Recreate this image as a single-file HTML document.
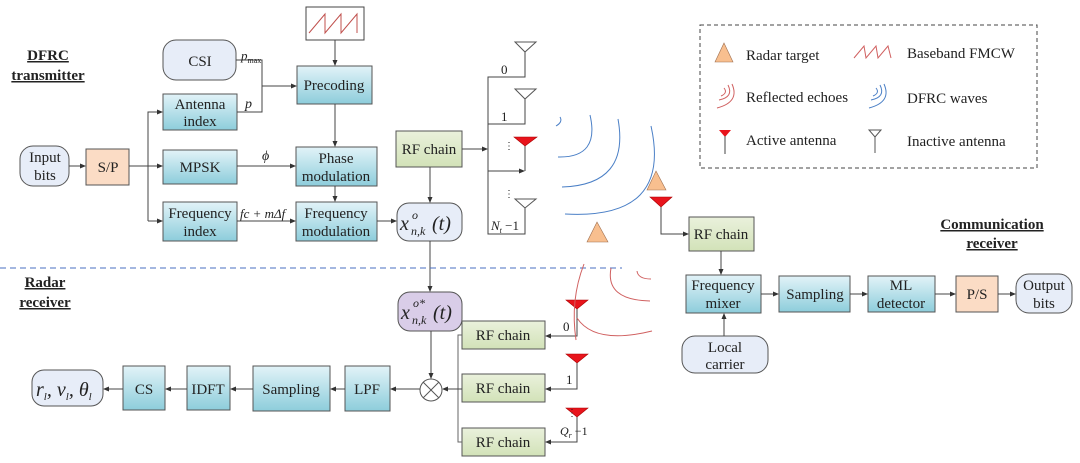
<!DOCTYPE html>
<html><head><meta charset="utf-8"><style>
html,body{margin:0;padding:0;background:#fff;}
svg{display:block;font-family:"Liberation Serif",serif;}
</style></head><body>
<svg width="1080" height="463" viewBox="0 0 1080 463" xmlns="http://www.w3.org/2000/svg">
<defs>
<linearGradient id="bl" x1="0" y1="0" x2="0" y2="1"><stop offset="0" stop-color="#e2f3f8"/><stop offset="1" stop-color="#8dcddb"/></linearGradient>
<linearGradient id="gr" x1="0" y1="0" x2="0" y2="1"><stop offset="0" stop-color="#eaf1dc"/><stop offset="1" stop-color="#d2e2b8"/></linearGradient>
<marker id="a" markerWidth="6" markerHeight="6" refX="5" refY="3" orient="auto" markerUnits="userSpaceOnUse"><path d="M0,0.5 L6,3 L0,5.5z" fill="#333"/></marker>
</defs>
<g font-size="15" fill="#222">
<g font-weight="bold" text-decoration="underline" font-size="15" text-anchor="middle">
<text x="48" y="60">DFRC</text><text x="48" y="80">transmitter</text>
<text x="45" y="287">Radar</text><text x="45" y="307">receiver</text>
<text x="992" y="229">Communication</text><text x="992" y="248">receiver</text>
</g>

<rect x="306" y="7" width="58" height="33" fill="#fff" stroke="#444"/>
<polyline points="309,33 325,14 325,33 341,14 341,33 357,14 357,33" fill="none" stroke="#c0504d" stroke-width="1"/>

<g stroke="#555" stroke-width="1">
<rect x="163" y="40" width="73" height="40" rx="13" fill="#e7edf8"/>
<rect x="297" y="66" width="75" height="38" fill="url(#bl)"/>
<rect x="163" y="94" width="74" height="36" fill="url(#bl)"/>
<rect x="20" y="146" width="49" height="40" rx="13" fill="#e7edf8"/>
<rect x="86" y="149" width="43" height="36" fill="#fbdcc5"/>
<rect x="163" y="150" width="74" height="34" fill="url(#bl)"/>
<rect x="296" y="147" width="81" height="39" fill="url(#bl)"/>
<rect x="163" y="202" width="74" height="39" fill="url(#bl)"/>
<rect x="296" y="202" width="81" height="39" fill="url(#bl)"/>
<rect x="397" y="203" width="65" height="38" rx="12" fill="#e7edf8"/>
<rect x="396" y="131" width="66" height="36" fill="url(#gr)"/>
<rect x="689" y="217" width="65" height="34" fill="url(#gr)"/>
<rect x="686" y="275" width="75" height="38" fill="url(#bl)"/>
<rect x="779" y="276" width="71" height="36" fill="url(#bl)"/>
<rect x="868" y="276" width="67" height="36" fill="url(#bl)"/>
<rect x="956" y="276" width="42" height="36" fill="#fbdcc5"/>
<rect x="1016" y="274" width="56" height="39" rx="13" fill="#e7edf8"/>
<rect x="682" y="336" width="86" height="37" rx="13" fill="#e7edf8"/>
<rect x="398" y="292" width="64" height="39" rx="12" fill="#d9cde8"/>
<rect x="462" y="321" width="83" height="28" fill="url(#gr)"/>
<rect x="462" y="374" width="83" height="28" fill="url(#gr)"/>
<rect x="462" y="428" width="83" height="28" fill="url(#gr)"/>
<rect x="345" y="366" width="45" height="45" fill="url(#bl)"/>
<rect x="253" y="366" width="77" height="45" fill="url(#bl)"/>
<rect x="187" y="366" width="43" height="44" fill="url(#bl)"/>
<rect x="123" y="366" width="42" height="44" fill="url(#bl)"/>
<rect x="32" y="370" width="71" height="36" rx="12" fill="#e7edf8"/>
<circle cx="431" cy="390" r="11" fill="#fff"/>
<line x1="423" y1="382" x2="439" y2="398"/><line x1="439" y1="382" x2="423" y2="398"/>
</g>

<g stroke="#444" stroke-width="1" fill="none">
<line x1="335" y1="40" x2="335" y2="65" marker-end="url(#a)"/>
<polyline points="236,60 262,60 262,112 237,112"/>
<line x1="262" y1="86" x2="296" y2="86" marker-end="url(#a)"/>
<line x1="335" y1="104" x2="335" y2="146" marker-end="url(#a)"/>
<line x1="69" y1="166" x2="85" y2="166" marker-end="url(#a)"/>
<line x1="129" y1="166" x2="162" y2="166" marker-end="url(#a)"/>
<polyline points="148,221 148,112 162,112" marker-end="url(#a)"/>
<line x1="148" y1="166" x2="148" y2="221"/>
<line x1="148" y1="221" x2="162" y2="221" marker-end="url(#a)"/>
<line x1="237" y1="166" x2="295" y2="166" marker-end="url(#a)"/>
<line x1="335" y1="186" x2="335" y2="201" marker-end="url(#a)"/>
<line x1="237" y1="221" x2="295" y2="221" marker-end="url(#a)"/>
<line x1="377" y1="221" x2="396" y2="221" marker-end="url(#a)"/>
<line x1="430" y1="167" x2="430" y2="202" marker-end="url(#a)"/>
<line x1="430" y1="241" x2="430" y2="291" marker-end="url(#a)"/>
<line x1="462" y1="149" x2="487" y2="149" marker-end="url(#a)"/>
<polyline points="525,52 525,77 488,77 488,234 525,234 525,208"/>
<polyline points="525,99 525,124 488,124"/>
<line x1="488" y1="171" x2="524" y2="171" marker-end="url(#a)"/>
<line x1="525" y1="145" x2="525" y2="171"/>
<polyline points="661,207 661,234 688,234" marker-end="url(#a)"/>
<line x1="721" y1="251" x2="721" y2="274" marker-end="url(#a)"/>
<line x1="724" y1="336" x2="724" y2="314" marker-end="url(#a)"/>
<line x1="761" y1="294" x2="778" y2="294" marker-end="url(#a)"/>
<line x1="850" y1="294" x2="867" y2="294" marker-end="url(#a)"/>
<line x1="935" y1="294" x2="955" y2="294" marker-end="url(#a)"/>
<line x1="998" y1="294" x2="1015" y2="294" marker-end="url(#a)"/>
<line x1="431" y1="331" x2="431" y2="378" marker-end="url(#a)"/>
<polyline points="577,308 577,336 546,336" marker-end="url(#a)"/>
<polyline points="577,362 577,389 546,389" marker-end="url(#a)"/>
<polyline points="577,416 577,442 546,442" marker-end="url(#a)"/>
<polyline points="462,335 458,335 458,442 462,442" stroke="#666"/>
<line x1="462" y1="389" x2="443" y2="389" marker-end="url(#a)"/>
<line x1="420" y1="389" x2="391" y2="389" marker-end="url(#a)"/>
<line x1="345" y1="389" x2="331" y2="389" marker-end="url(#a)"/>
<line x1="253" y1="389" x2="231" y2="389" marker-end="url(#a)"/>
<line x1="187" y1="389" x2="166" y2="389" marker-end="url(#a)"/>
<line x1="123" y1="389" x2="104" y2="389" marker-end="url(#a)"/>
</g>

<g stroke="#555" fill="#fff">
<path d="M515,42 L536,42 L525,52z"/>
<path d="M515,89 L536,89 L525,99z"/>
<path d="M515,199 L536,199 L525,208z"/>
</g>
<g fill="#e8141c" stroke="#a00" stroke-width="0.6">
<path d="M514,137 L537,137 L525,146z"/>
<path d="M650,197 L672,197 L661,207z"/>
<path d="M566,300 L588,300 L577,309z"/>
<path d="M566,354 L588,354 L577,363z"/>
<path d="M566,408 L588,408 L577,417z"/>
</g>
<g fill="#f8bf8f" stroke="#a07050" stroke-width="0.6">
<path d="M597,222 L608,242 L587,242z"/>
<path d="M656,171 L666,190 L647,190z"/>
</g>
<g fill="none" stroke="#4a7fc6" stroke-width="1">
<path d="M556,126 Q563,122 560,117"/>
<path d="M590,115 Q600,158 558,157"/>
<path d="M618,119 Q630,185 562,187"/>
<path d="M651,126 Q672,220 565,214"/>
</g>
<line x1="0" y1="268" x2="622" y2="268" stroke="#4a6fc0" stroke-width="1" stroke-dasharray="6,4"/>
<g fill="none" stroke="#d06060" stroke-width="1">
<path d="M584,264 Q570,300 576,340"/>
<path d="M611,268 Q605,300 650,301"/>
<path d="M637,271 Q638,279 651,279"/>
<path d="M577,318 Q595,345 652,331"/>
</g>

<rect x="700" y="25" width="337" height="143" fill="none" stroke="#444" stroke-dasharray="4,3"/>
<path d="M724,43 L733,62 L715,62z" fill="#f8bf8f" stroke="#a07050" stroke-width="0.6"/>
<polyline points="854,58 864,46 866,58 876,46 878,58 888,46 891,58" fill="none" stroke="#d06060"/>
<g fill="none" stroke="#d06060"><path d="M724,88 Q728,93 721,96"/><path d="M728,85 Q734,97 719,100"/><path d="M732,84 Q740,102 717,108"/></g>
<g fill="none" stroke="#4a7fc6"><path d="M876,88 Q880,93 873,96"/><path d="M880,85 Q886,97 871,100"/><path d="M884,84 Q892,102 869,108"/></g>
<path d="M719,130 L731,130 L725,137z" fill="#e8141c"/><line x1="725" y1="136" x2="725" y2="154" stroke="#444"/>
<path d="M869,130 L881,130 L875,137z" fill="#fff" stroke="#555"/><line x1="875" y1="136" x2="875" y2="153" stroke="#555"/>
<g font-size="15">
<text x="746" y="60">Radar target</text>
<text x="907" y="58">Baseband FMCW</text>
<text x="746" y="102">Reflected echoes</text>
<text x="907" y="103">DFRC waves</text>
<text x="746" y="145">Active antenna</text>
<text x="907" y="146">Inactive antenna</text>
</g>

<g text-anchor="middle" font-size="15">
<text x="200" y="66">CSI</text>
<text x="334" y="90">Precoding</text>
<text x="200" y="109">Antenna</text><text x="200" y="126">index</text>
<text x="45" y="162">Input</text><text x="45" y="180">bits</text>
<text x="108" y="172">S/P</text>
<text x="200" y="172">MPSK</text>
<text x="336" y="163">Phase</text><text x="336" y="181">modulation</text>
<text x="200" y="218">Frequency</text><text x="200" y="236">index</text>
<text x="336" y="218">Frequency</text><text x="336" y="236">modulation</text>
<text x="429" y="154">RF chain</text>
<text x="721" y="239">RF chain</text>
<text x="723" y="290">Frequency</text><text x="723" y="308">mixer</text>
<text x="815" y="299">Sampling</text>
<text x="901" y="290">ML</text><text x="901" y="308">detector</text>
<text x="977" y="299">P/S</text>
<text x="1044" y="290">Output</text><text x="1044" y="308">bits</text>
<text x="725" y="352">Local</text><text x="725" y="369">carrier</text>
<text x="503" y="340">RF chain</text>
<text x="503" y="393">RF chain</text>
<text x="503" y="447">RF chain</text>
<text x="367" y="394">LPF</text>
<text x="291" y="394">Sampling</text>
<text x="208" y="394">IDFT</text>
<text x="144" y="394">CS</text>
</g>
<g font-style="italic">
<text x="400" y="230" font-size="20">x</text><text x="412" y="219" font-size="12">o</text><text x="411" y="235" font-size="12">n,k</text><text x="432" y="230" font-size="20">(t)</text>
<text x="401" y="319" font-size="20">x</text><text x="413" y="307" font-size="12">o*</text><text x="412" y="324" font-size="12">n,k</text><text x="433" y="319" font-size="20">(t)</text>
<text x="36" y="396" font-size="20">r<tspan font-size="11" dy="4">l</tspan><tspan dy="-4">, v</tspan><tspan font-size="11" dy="4">l</tspan><tspan dy="-4">, θ</tspan><tspan font-size="11" dy="4">l</tspan></text>
<text x="241" y="60" font-size="13">p<tspan font-size="8" dy="3" font-style="normal">max</tspan></text>
<text x="245" y="108" font-size="14">p</text>
<text x="262" y="160" font-size="14">ϕ</text>
<text x="240" y="218" font-size="13">fc + mΔf</text>
<text x="491" y="230" font-size="13">N<tspan font-size="8" dy="3">t</tspan><tspan dy="-3" font-style="normal"> −1</tspan></text>
<text x="560" y="435" font-size="12">Q<tspan font-size="8" dy="3">r</tspan><tspan dy="-3" font-style="normal"> −1</tspan></text>
</g>
<g font-size="13">
<text x="501" y="74">0</text><text x="501" y="121">1</text>
<text x="563" y="331">0</text><text x="566" y="384">1</text>
<text x="504" y="149" font-size="10">⋮</text><text x="504" y="197" font-size="10">⋮</text>
<text x="567" y="416" font-size="10">⋮</text>
</g>
</g>
</svg>
</body></html>
